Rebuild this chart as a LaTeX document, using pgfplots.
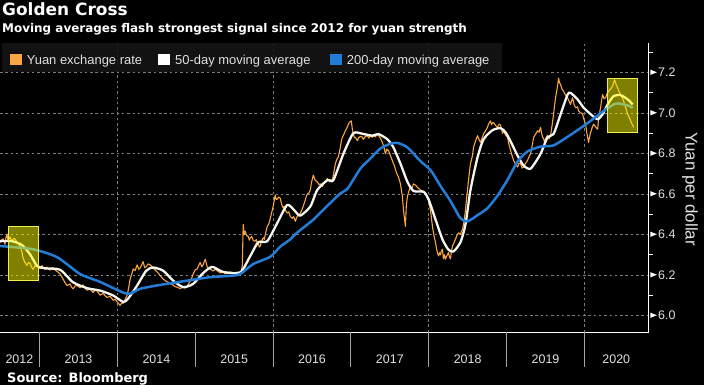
\documentclass[border=0pt]{standalone}
\usepackage{fontspec}
\setmainfont{Liberation Sans}
\newfontfamily\dejavu{DejaVu Sans}
\usepackage{pgfplots}
\pgfplotsset{compat=1.18}
\definecolor{yuanorange}{RGB}{250,165,65}
\definecolor{mawhite}{RGB}{245,245,240}
\definecolor{mablue}{RGB}{35,125,215}
\definecolor{gridgray}{RGB}{125,125,125}
\definecolor{sepgray}{RGB}{165,165,165}
\definecolor{labelgray}{RGB}{225,225,225}
\definecolor{legendbg}{RGB}{22,22,22}
\definecolor{boxyellow}{RGB}{255,255,0}
\definecolor{boxedge}{RGB}{240,240,70}
\begin{document}
\begin{tikzpicture}
\path[use as bounding box, fill=black] (0bp,0bp) rectangle (704bp,385bp);
\begin{axis}[
  at={(0bp,52.7bp)}, anchor=south west,
  scale only axis, width=648.7bp, height=289bp,
  xmin=2012.491, xmax=2020.826,
  ymin=5.917, ymax=7.344,
  axis x line*=bottom, axis y line*=right,
  axis line style={white, line width=1.1bp},
  clip mode=individual,
  no markers,
  major tick length=0pt, minor tick length=4bp, tick align=outside,
  minor tick style={white, line width=1bp},
  xtick={2012.74,2013.5,2014.5,2015.5,2016.5,2017.5,2018.5,2019.5,2020.41},
  xticklabels={2012,2013,2014,2015,2016,2017,2018,2019,2020},
  xticklabel style={anchor=base, yshift=-31bp, font=\fontsize{12.5}{14}\selectfont, text=labelgray},
  extra x ticks={2014,2016,2018,2020},
  extra x tick labels={},
  extra x tick style={grid=major},
  ytick={6.0,6.2,6.4,6.6,6.8,7.0,7.2},
  minor ytick={6.1,6.3,6.5,6.7,6.9,7.1,7.3},
  ymajorgrids,
  major grid style={gridgray, line width=0.8bp, dash pattern=on 2.5bp off 2.8bp},
  yticklabel={\tikz[baseline=0pt]\fill[white] (0,1.9bp) -- (6.5bp,4.5bp) -- (0,7.1bp) -- cycle;\hspace{1.3bp}\pgfmathprintnumber[fixed,fixed zerofill,precision=1,assume math mode=true]{\tick}},
  yticklabel style={anchor=west, inner sep=0pt, xshift=1.5bp, font=\fontsize{12.5}{14}\selectfont, text=labelgray},
]
% Yuan exchange rate (spot)
\addplot[yuanorange, line width=1.1bp, line join=round] coordinates {
(2012.491,6.360) (2012.510,6.372) (2012.530,6.378) (2012.555,6.352) (2012.568,6.385)
(2012.581,6.402) (2012.594,6.368) (2012.607,6.380) (2012.620,6.388) (2012.645,6.364)
(2012.665,6.380) (2012.684,6.378) (2012.715,6.358) (2012.748,6.342) (2012.774,6.312)
(2012.787,6.284) (2012.812,6.262) (2012.838,6.247) (2012.857,6.262) (2012.877,6.258)
(2012.895,6.240) (2012.915,6.228) (2012.940,6.245) (2012.967,6.242) (2013.005,6.232)
(2013.031,6.246) (2013.050,6.236) (2013.070,6.228) (2013.095,6.239) (2013.115,6.230)
(2013.134,6.224) (2013.173,6.236) (2013.200,6.224) (2013.224,6.218) (2013.263,6.205)
(2013.301,6.180) (2013.330,6.160) (2013.353,6.148) (2013.391,6.156) (2013.410,6.140)
(2013.430,6.132) (2013.455,6.145) (2013.481,6.148) (2013.520,6.137) (2013.559,6.151)
(2013.585,6.135) (2013.610,6.125) (2013.649,6.131) (2013.687,6.114) (2013.712,6.125)
(2013.739,6.121) (2013.777,6.100) (2013.816,6.109) (2013.840,6.098) (2013.867,6.089)
(2013.906,6.095) (2013.944,6.075) (2013.970,6.080) (2013.996,6.068) (2014.034,6.050)
(2014.055,6.062) (2014.073,6.060) (2014.100,6.080) (2014.124,6.100) (2014.137,6.122)
(2014.150,6.150) (2014.163,6.180) (2014.185,6.205) (2014.202,6.230) (2014.228,6.222)
(2014.253,6.250) (2014.275,6.228) (2014.292,6.235) (2014.310,6.248) (2014.330,6.266)
(2014.350,6.236) (2014.369,6.240) (2014.395,6.255) (2014.420,6.250) (2014.459,6.235)
(2014.485,6.225) (2014.510,6.215) (2014.549,6.197) (2014.588,6.180) (2014.615,6.172)
(2014.639,6.166) (2014.678,6.158) (2014.716,6.150) (2014.740,6.142) (2014.768,6.140)
(2014.806,6.132) (2014.845,6.142) (2014.870,6.135) (2014.896,6.145) (2014.935,6.170)
(2014.955,6.185) (2014.973,6.205) (2014.999,6.225) (2015.025,6.230) (2015.045,6.248)
(2015.063,6.262) (2015.085,6.240) (2015.102,6.252) (2015.128,6.278) (2015.153,6.240)
(2015.175,6.232) (2015.192,6.229) (2015.231,6.220) (2015.255,6.228) (2015.282,6.221)
(2015.321,6.210) (2015.359,6.215) (2015.385,6.206) (2015.411,6.208) (2015.449,6.215)
(2015.488,6.210) (2015.539,6.213) (2015.578,6.212) (2015.591,6.220) (2015.604,6.245)
(2015.616,6.450) (2015.628,6.400) (2015.642,6.416) (2015.660,6.395) (2015.681,6.390)
(2015.695,6.372) (2015.707,6.384) (2015.725,6.390) (2015.745,6.370) (2015.771,6.367)
(2015.785,6.375) (2015.797,6.355) (2015.809,6.360) (2015.822,6.338) (2015.835,6.343)
(2015.855,6.370) (2015.874,6.384) (2015.887,6.376) (2015.900,6.400) (2015.912,6.420)
(2015.925,6.440) (2015.945,6.452) (2015.964,6.480) (2015.983,6.510) (2016.002,6.540)
(2016.015,6.570) (2016.028,6.595) (2016.040,6.572) (2016.054,6.575) (2016.070,6.585)
(2016.092,6.579) (2016.110,6.548) (2016.131,6.530) (2016.145,6.538) (2016.157,6.520)
(2016.182,6.506) (2016.200,6.512) (2016.221,6.489) (2016.247,6.480) (2016.265,6.488)
(2016.285,6.465) (2016.298,6.478) (2016.311,6.490) (2016.330,6.498) (2016.350,6.506)
(2016.370,6.522) (2016.388,6.540) (2016.414,6.571) (2016.428,6.590) (2016.440,6.600)
(2016.460,6.605) (2016.478,6.620) (2016.495,6.660) (2016.517,6.693) (2016.540,6.668)
(2016.568,6.660) (2016.590,6.646) (2016.607,6.650) (2016.633,6.636) (2016.650,6.652)
(2016.671,6.660) (2016.697,6.677) (2016.715,6.668) (2016.735,6.670) (2016.761,6.668)
(2016.780,6.705) (2016.800,6.750) (2016.820,6.772) (2016.838,6.782) (2016.850,6.805)
(2016.864,6.830) (2016.877,6.862) (2016.890,6.880) (2016.910,6.895) (2016.928,6.912)
(2016.954,6.930) (2016.967,6.945) (2016.985,6.955) (2017.005,6.961) (2017.018,6.920)
(2017.031,6.896) (2017.045,6.878) (2017.057,6.880) (2017.083,6.863) (2017.100,6.878)
(2017.121,6.885) (2017.147,6.880) (2017.160,6.870) (2017.185,6.884) (2017.211,6.888)
(2017.230,6.876) (2017.250,6.888) (2017.276,6.880) (2017.289,6.890) (2017.315,6.882)
(2017.340,6.896) (2017.360,6.886) (2017.379,6.875) (2017.404,6.855) (2017.425,6.830)
(2017.443,6.798) (2017.462,6.822) (2017.482,6.815) (2017.507,6.790) (2017.525,6.772)
(2017.546,6.750) (2017.560,6.738) (2017.572,6.720) (2017.590,6.700) (2017.610,6.685)
(2017.636,6.650) (2017.662,6.587) (2017.675,6.522) (2017.700,6.440) (2017.712,6.545)
(2017.726,6.587) (2017.745,6.615) (2017.765,6.636) (2017.785,6.628) (2017.803,6.650)
(2017.829,6.644) (2017.860,6.630) (2017.893,6.620) (2017.925,6.612) (2017.957,6.603)
(2017.996,6.571) (2018.010,6.545) (2018.022,6.520) (2018.035,6.480) (2018.047,6.440)
(2018.065,6.400) (2018.086,6.360) (2018.105,6.320) (2018.125,6.294) (2018.140,6.310)
(2018.150,6.300) (2018.163,6.318) (2018.176,6.327) (2018.189,6.280) (2018.202,6.300)
(2018.215,6.278) (2018.228,6.292) (2018.240,6.300) (2018.253,6.311) (2018.266,6.290)
(2018.279,6.280) (2018.292,6.318) (2018.305,6.343) (2018.325,6.360) (2018.343,6.376)
(2018.362,6.395) (2018.382,6.408) (2018.408,6.400) (2018.420,6.415) (2018.433,6.424)
(2018.452,6.460) (2018.472,6.522) (2018.485,6.575) (2018.498,6.620) (2018.517,6.690)
(2018.536,6.750) (2018.562,6.790) (2018.575,6.830) (2018.600,6.860) (2018.626,6.888)
(2018.645,6.870) (2018.665,6.855) (2018.685,6.875) (2018.704,6.896) (2018.730,6.912)
(2018.755,6.930) (2018.768,6.945) (2018.794,6.961) (2018.807,6.942) (2018.819,6.950)
(2018.832,6.953) (2018.858,6.938) (2018.884,6.929) (2018.905,6.945) (2018.922,6.940)
(2018.948,6.900) (2018.961,6.912) (2018.985,6.892) (2019.012,6.880) (2019.030,6.845)
(2019.051,6.815) (2019.070,6.790) (2019.089,6.766) (2019.115,6.748) (2019.141,6.733)
(2019.160,6.752) (2019.179,6.750) (2019.200,6.728) (2019.218,6.733) (2019.245,6.752)
(2019.269,6.766) (2019.290,6.785) (2019.308,6.798) (2019.334,6.850) (2019.347,6.880)
(2019.372,6.895) (2019.398,6.912) (2019.418,6.905) (2019.436,6.929) (2019.450,6.900)
(2019.462,6.880) (2019.475,6.875) (2019.490,6.850) (2019.501,6.872) (2019.526,6.890)
(2019.545,6.872) (2019.565,6.888) (2019.585,6.940) (2019.604,6.994) (2019.617,7.040)
(2019.629,7.075) (2019.642,7.105) (2019.655,7.132) (2019.668,7.172) (2019.680,7.150)
(2019.694,7.140) (2019.712,7.118) (2019.732,7.107) (2019.758,7.088) (2019.784,7.075)
(2019.803,7.058) (2019.822,7.042) (2019.835,7.060) (2019.848,7.075) (2019.868,7.040)
(2019.887,7.026) (2019.912,7.030) (2019.925,7.010) (2019.950,7.002) (2019.977,6.994)
(2019.996,6.965) (2020.015,6.945) (2020.028,6.910) (2020.041,6.880) (2020.054,6.855)
(2020.067,6.885) (2020.080,6.904) (2020.100,6.928) (2020.118,6.945) (2020.145,6.930)
(2020.170,6.920) (2020.183,6.977) (2020.195,7.002) (2020.208,7.026) (2020.221,7.065)
(2020.234,7.091) (2020.252,7.070) (2020.272,7.075) (2020.290,7.095) (2020.311,7.107)
(2020.335,7.118) (2020.362,7.132) (2020.375,7.150) (2020.388,7.164) (2020.408,7.140)
(2020.427,7.124) (2020.445,7.105) (2020.465,7.091) (2020.485,7.075) (2020.504,7.059)
(2020.518,7.040) (2020.530,7.026) (2020.543,7.010) (2020.556,6.994) (2020.575,6.978)
(2020.594,6.961) (2020.612,6.945) (2020.633,6.929)
};
% 50-day moving average
\addplot[mawhite, line width=2.3bp, line join=round, smooth, tension=0.4] coordinates {
(2012.491,6.367) (2012.645,6.367) (2012.774,6.348) (2012.877,6.302) (2012.967,6.245)
(2013.070,6.233) (2013.263,6.226) (2013.430,6.164) (2013.610,6.135) (2013.777,6.123)
(2013.944,6.099) (2014.073,6.067) (2014.137,6.083) (2014.253,6.148) (2014.369,6.221)
(2014.459,6.237) (2014.588,6.221) (2014.716,6.172) (2014.845,6.140) (2014.973,6.156)
(2015.102,6.210) (2015.218,6.240) (2015.359,6.215) (2015.578,6.213) (2015.707,6.294)
(2015.809,6.362) (2015.925,6.367) (2016.054,6.457) (2016.182,6.546) (2016.285,6.514)
(2016.350,6.493) (2016.478,6.538) (2016.568,6.620) (2016.697,6.668) (2016.774,6.668)
(2016.903,6.798) (2017.031,6.900) (2017.160,6.896) (2017.276,6.888) (2017.353,6.896)
(2017.469,6.870) (2017.546,6.830) (2017.636,6.750) (2017.726,6.660) (2017.803,6.615)
(2017.932,6.611) (2017.996,6.575) (2018.086,6.475) (2018.176,6.376) (2018.253,6.325)
(2018.318,6.316) (2018.408,6.362) (2018.472,6.450) (2018.536,6.620) (2018.626,6.780)
(2018.704,6.870) (2018.819,6.915) (2018.922,6.925) (2018.986,6.905) (2019.051,6.860)
(2019.141,6.790) (2019.218,6.741) (2019.308,6.725) (2019.436,6.798) (2019.526,6.880)
(2019.604,6.896) (2019.694,6.994) (2019.784,7.091) (2019.822,7.099) (2019.912,7.067)
(2019.990,7.026) (2020.080,6.994) (2020.170,6.969) (2020.234,6.994) (2020.298,7.042)
(2020.375,7.083) (2020.465,7.088) (2020.556,7.067) (2020.620,7.042)
};
% 200-day moving average
\addplot[mablue, line width=2.5bp, line join=round, smooth, tension=0.4] coordinates {
(2012.491,6.343) (2012.915,6.327) (2013.224,6.288) (2013.520,6.205) (2013.777,6.166)
(2014.124,6.107) (2014.292,6.132) (2014.549,6.151) (2014.896,6.172) (2015.192,6.189)
(2015.488,6.197) (2015.578,6.205) (2015.745,6.254) (2015.964,6.290) (2016.092,6.340)
(2016.221,6.376) (2016.311,6.410) (2016.517,6.473) (2016.645,6.522) (2016.864,6.603)
(2016.954,6.625) (2017.121,6.725) (2017.250,6.775) (2017.379,6.825) (2017.507,6.848)
(2017.597,6.852) (2017.726,6.830) (2017.893,6.762) (2018.022,6.718) (2018.150,6.640)
(2018.279,6.565) (2018.408,6.480) (2018.498,6.465) (2018.626,6.495) (2018.755,6.530)
(2018.884,6.592) (2019.012,6.670) (2019.141,6.760) (2019.269,6.810) (2019.436,6.834)
(2019.604,6.840) (2019.822,6.892) (2020.041,6.950) (2020.247,7.010) (2020.375,7.042)
(2020.440,7.047) (2020.556,7.037) (2020.620,7.026)
};
% highlight boxes
\fill[boxyellow, fill opacity=0.5] (axis cs:2012.594,6.172) rectangle (axis cs:2012.980,6.438);
\draw[boxedge, line width=1bp] (axis cs:2012.594,6.172) rectangle (axis cs:2012.980,6.438);
\fill[boxyellow, fill opacity=0.5] (axis cs:2020.298,6.906) rectangle (axis cs:2020.684,7.172);
\draw[boxedge, line width=1bp] (axis cs:2020.298,6.906) rectangle (axis cs:2020.684,7.172);
% year separators below the axis
\pgfplotsinvokeforeach{2013,2014,2015,2016,2017,2018,2019,2020}{
  \draw[sepgray, line width=0.9bp] (axis cs:#1,5.917) -- ++(0bp,-34.4bp);
}
\end{axis}
% legend
\fill[legendbg, fill opacity=0.85] (1.7bp,312.5bp) rectangle (501.7bp,341.7bp);
\fill[yuanorange] (10bp,320bp) rectangle (21.7bp,330.7bp);
\fill[white] (158.3bp,320bp) rectangle (170bp,330.7bp);
\fill[mablue] (330bp,320bp) rectangle (341.7bp,330.7bp);
\begin{scope}[every node/.style={anchor=base west, inner sep=0pt, text=labelgray, font=\fontsize{13}{15}\selectfont}]
\node at (26.7bp,320bp) {Yuan exchange rate};
\node at (175bp,320bp) {50-day moving average};
\node at (346.7bp,320bp) {200-day moving average};
\end{scope}
% y label
\node[rotate=-90, anchor=center, inner sep=0pt, text=labelgray, font=\fontsize{17}{20}\selectfont] at (690bp,196bp) {Yuan per dollar};
% titles and source
\node[anchor=base west, inner sep=0pt, text=white, font=\dejavu\bfseries\fontsize{17}{20}\selectfont] at (2bp,369bp) {Golden Cross};
\node[anchor=base west, inner sep=0pt, text=white, font=\dejavu\bfseries\fontsize{12}{14}\selectfont] at (2bp,352.7bp) {Moving averages flash strongest signal since 2012 for yuan strength};
\node[anchor=base west, inner sep=0pt, text=white, font=\dejavu\bfseries\fontsize{13}{15}\selectfont] at (7bp,2.7bp) {Source: Bloomberg};
\end{tikzpicture}
\end{document}
